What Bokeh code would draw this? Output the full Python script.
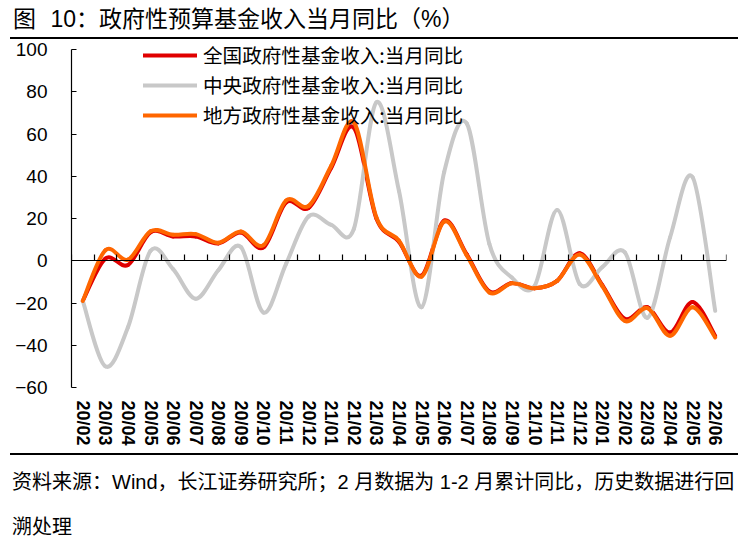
from bokeh.plotting import figure
from bokeh.models import (LinearAxis, FixedTicker, ColumnDataSource, Legend, LegendItem,
                          Div, Range1d)
from bokeh.layouts import column
from bokeh.embed import file_html
from bokeh.resources import INLINE

months = ["20/02", "20/03", "20/04", "20/05", "20/06", "20/07", "20/08", "20/09", "20/10",
          "20/11", "20/12", "21/01", "21/02", "21/03", "21/04", "21/05", "21/06", "21/07",
          "21/08", "21/09", "21/10", "21/11", "21/12", "22/01", "22/02", "22/03", "22/04",
          "22/05", "22/06"]

national = [-19, 1, -2, 13.5, 11.5, 11.5, 8.2, 13.4, 6.3, 27.6, 25, 44, 63, 20, 9, -7, 19, 3,
            -14.5, -10.5, -13, -9.5, 3.5, -11.5, -27.5, -22, -34, -19.5, -35.5]
central = [-19, -50, -31.5, 4.7, -4, -18, -4.5, 6.5, -24.5, -1.5, 21, 17, 15, 75, 33, -22, 42,
           65, 8, -8, -12, 24, -11, -3, 4, -27, 11, 39.5, -23.7]
local = [-19, 5, 0.5, 14, 12.3, 12.6, 8.5, 13.8, 7.4, 28.5, 26, 45, 65.5, 20.5, 9.5, -7.5,
         18.5, 2.5, -15, -10.7, -13, -9.5, 3, -12, -28.5, -22.4, -35.5, -22, -36.3]

series_names = ["全国政府性基金收入:当月同比", "中央政府性基金收入:当月同比", "地方政府性基金收入:当月同比"]
y_ticks = [-60, -40, -20, 0, 20, 40, 60, 80, 100]

title_text = "图 10：政府性预算基金收入当月同比（%）"
note_text = "资料来源：Wind，长江证券研究所；2 月数据为 1-2 月累计同比，历史数据进行回溯处理"

LATIN = "'Liberation Sans', 'Noto Sans CJK SC'"
CJK = "'Noto Sans CJK SC'"


def smooth_source(ys):
    """Cubic Bezier control points (Catmull-Rom style, as spreadsheet smoothed lines)."""
    n = len(ys)
    xs = list(range(n))
    d = dict(x0=[], y0=[], x1=[], y1=[], cx0=[], cy0=[], cx1=[], cy1=[])
    for i in range(n - 1):
        xm, ym = xs[max(i - 1, 0)], ys[max(i - 1, 0)]
        xa, ya = xs[i], ys[i]
        xb, yb = xs[i + 1], ys[i + 1]
        xp, yp = xs[min(i + 2, n - 1)], ys[min(i + 2, n - 1)]
        d["x0"].append(xa); d["y0"].append(ya)
        d["x1"].append(xb); d["y1"].append(yb)
        d["cx0"].append(xa + (xb - xm) / 6.0); d["cy0"].append(ya + (yb - ym) / 6.0)
        d["cx1"].append(xb - (xp - xa) / 6.0); d["cy1"].append(yb - (yp - ya) / 6.0)
    return ColumnDataSource(d)


n = len(months)
y_lo, y_hi = y_ticks[0], y_ticks[-1]
# frame is a little taller than the axis (axis bounded to -60..100) so the legend is not clipped
px_per_unit = 338 / (y_hi - y_lo)
extra_px = 10
p = figure(frame_width=655, frame_height=338 + extra_px, output_backend="svg",
           toolbar_location=None,
           x_range=Range1d(-0.5, n - 0.5),
           y_range=Range1d(y_lo, y_hi + extra_px / px_per_unit),
           x_axis_location=None, y_axis_location=None,
           min_border_left=71, min_border_right=18, min_border_top=0, min_border_bottom=66)
p.grid.visible = False
p.outline_line_color = None
p.background_fill_color = "white"
p.border_fill_color = "white"

yax = LinearAxis(ticker=FixedTicker(ticks=y_ticks), bounds=(y_lo, y_hi))
yax.major_tick_in = 5
yax.major_tick_out = 0
yax.minor_tick_line_color = None
yax.axis_line_color = "black"
yax.axis_line_width = 1.2
yax.major_tick_line_width = 1.2
yax.major_label_standoff = 24
yax.major_label_text_font = LATIN
yax.major_label_text_font_size = "19px"
yax.major_label_text_color = "black"
p.add_layout(yax, "left")

# month labels at the bottom
xlab = LinearAxis(ticker=FixedTicker(ticks=list(range(n))),
                  major_label_overrides={i: m for i, m in enumerate(months)})
xlab.axis_line_color = None
xlab.major_tick_line_color = None
xlab.minor_tick_line_color = None
xlab.major_label_orientation = "vertical"
xlab.major_label_standoff = 7
xlab.major_label_text_font = LATIN
xlab.major_label_text_font_size = "18px"
xlab.major_label_text_font_style = "bold"
xlab.major_label_text_color = "black"
p.add_layout(xlab, "below")

# category axis line crossing at zero with ticks between categories (no labels)
z_ticks = [i - 0.5 for i in range(n + 1)]
zax = LinearAxis(fixed_location=0, ticker=FixedTicker(ticks=z_ticks),
                 major_label_overrides={t: "" for t in z_ticks})
zax.major_label_text_font_size = "1px"
zax.major_label_standoff = 0
zax.major_tick_out = 6
zax.major_tick_in = 0
zax.minor_tick_line_color = None
zax.axis_line_color = "black"
zax.axis_line_width = 1.2
zax.major_tick_line_width = 1.2
p.add_layout(zax, "above")

colors = ["#E00000", "#C8C8C8", "#FF6600"]
widths = [4, 4, 4]
datasets = [national, central, local]
renderers = []
for ys, c, w in zip(datasets, colors, widths):
    r = p.bezier(x0="x0", y0="y0", x1="x1", y1="y1", cx0="cx0", cy0="cy0", cx1="cx1", cy1="cy1",
                 source=smooth_source(ys), line_color=c, line_width=w, line_cap="round")
    renderers.append(r)

legend = Legend(items=[LegendItem(label=series_names[i], renderers=[renderers[i]]) for i in range(3)],
                location=(72, 258), orientation="vertical")
legend.glyph_width = 54
legend.glyph_height = 20
legend.label_height = 20
legend.label_standoff = 6
legend.spacing = 1
legend.padding = 0
legend.margin = 0
legend.border_line_color = None
legend.background_fill_alpha = 0
legend.label_text_font = CJK
legend.label_text_font_size = "19.6px"
legend.label_text_color = "black"
p.add_layout(legend, "center")

title_div = Div(text=(
    "<div style=\"width:728px;height:39px;box-sizing:border-box;border-bottom:2px solid #000;"
    "margin-left:10px;padding-left:3px;padding-top:7px;word-spacing:8px;"
    "font-family:'Liberation Sans','Noto Sans CJK SC';"
    "font-size:23px;line-height:24px;color:#000;white-space:nowrap;\">" + title_text + "</div>"),
    width=744, height=39, margin=(0, 0, 0, 0))

note_div = Div(text=(
    "<div style=\"width:728px;height:98px;box-sizing:border-box;border-top:2px solid #000;"
    "margin-left:10px;padding-left:2px;padding-top:5px;overflow:hidden;"
    "font-family:'Liberation Sans','Noto Sans CJK SC';font-size:20px;line-height:45px;"
    "color:#000;\">" + note_text + "</div>"),
    width=744, height=98, margin=(0, 0, 0, 0))

page = column(title_div, p, note_div, spacing=0)

open("out.html", "w").write(file_html(page, INLINE))
